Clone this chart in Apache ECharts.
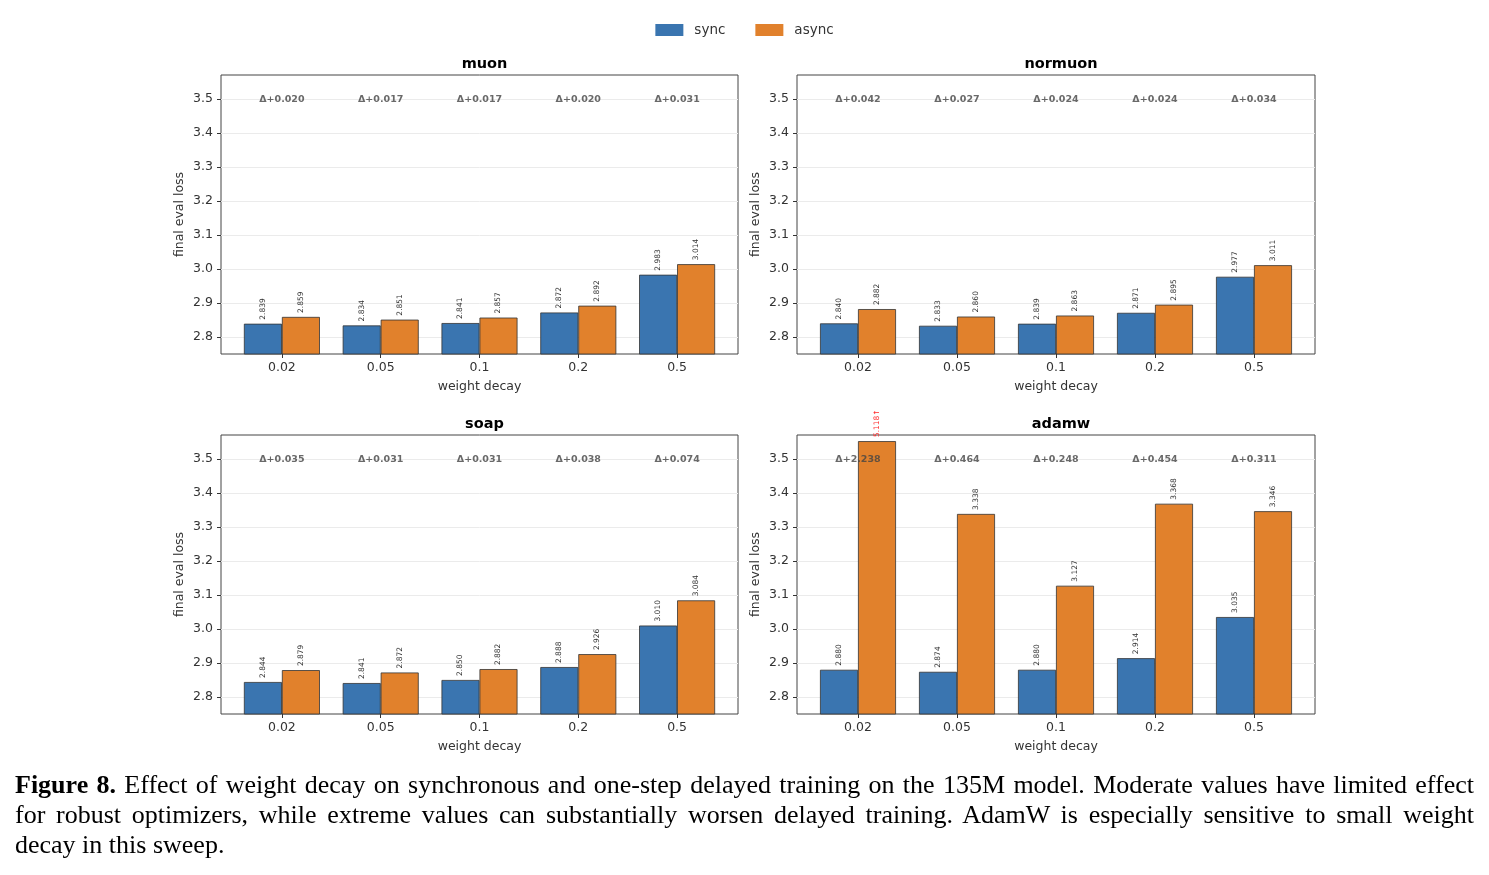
<!DOCTYPE html>
<html>
<head>
<meta charset="utf-8">
<script src="https://cdn.jsdelivr.net/npm/echarts@6/dist/echarts.min.js"></script>
<style>
  body { margin: 0; background: #fff; }
  #chart { position: absolute; left: 0; top: 0; width: 1489px; height: 875px; }
  #caption {
    position: absolute; left: 15px; top: 770px; width: 1459px;
    font-family: "Liberation Serif", "DejaVu Serif", serif; font-size: 26px;
    line-height: 30px; color: #000;
  }
  #caption .full { text-align: justify; text-align-last: justify; white-space: nowrap; }
</style>
</head>
<body>
<div id="chart"></div>
<div id="caption">
  <div class="full"><b>Figure 8.</b> Effect of weight decay on synchronous and one-step delayed training on the 135M model. Moderate values have limited effect</div>
  <div class="full">for robust optimizers, while extreme values can substantially worsen delayed training. AdamW is especially sensitive to small weight</div>
  <div>decay in this sweep.</div>
</div>
<script>
// weight decay values on the x axis
const categories = ['0.02', '0.05', '0.1', '0.2', '0.5'];
const optimizers = ['muon', 'normuon', 'soap', 'adamw'];

// final eval loss per optimizer
const muonSync = [2.839, 2.834, 2.841, 2.872, 2.983];
const muonAsync = [2.859, 2.851, 2.857, 2.892, 3.014];
const muonDelta = ['0.020', '0.017', '0.017', '0.020', '0.031'];

const normuonSync = [2.840, 2.833, 2.839, 2.871, 2.977];
const normuonAsync = [2.882, 2.860, 2.863, 2.895, 3.011];
const normuonDelta = ['0.042', '0.027', '0.024', '0.024', '0.034'];

const soapSync = [2.844, 2.841, 2.850, 2.888, 3.010];
const soapAsync = [2.879, 2.872, 2.882, 2.926, 3.084];
const soapDelta = ['0.035', '0.031', '0.031', '0.038', '0.074'];

const adamwSync = [2.880, 2.874, 2.880, 2.914, 3.035];
const adamwAsync = [5.118, 3.338, 3.127, 3.368, 3.346];
const adamwDelta = ['2.238', '0.464', '0.248', '0.454', '0.311'];

const yTicks = [2.8, 2.9, 3.0, 3.1, 3.2, 3.3, 3.4, 3.5];
const yMin = 2.75, yMax = 3.57, yCap = 3.552; // bars above the axis are clipped

const panels = [
  { sync: muonSync, async: muonAsync, delta: muonDelta },
  { sync: normuonSync, async: normuonAsync, delta: normuonDelta },
  { sync: soapSync, async: soapAsync, delta: soapDelta },
  { sync: adamwSync, async: adamwAsync, delta: adamwDelta }
];

const boxes = [
  { left: 221, top: 75, width: 517, height: 279 },
  { left: 797, top: 75, width: 518, height: 279 },
  { left: 221, top: 435, width: 517, height: 279 },
  { left: 797, top: 435, width: 518, height: 279 }
];

const SYNC = '#3a75b0', ASYNC = '#e1812c', INK = '#333';
const pad = 11.5; // matplotlib x margin outside the outer bars

const grid = [], xAxis = [], yAxis = [], series = [], title = [];

boxes.forEach((b, i) => {
  const d = panels[i];
  // frame grid: border, y ticks, gridlines
  grid.push({ left: b.left, top: b.top, width: b.width, height: b.height,
    show: true, borderColor: '#444', borderWidth: 1, backgroundColor: 'transparent' });
  // inner grid for bars
  grid.push({ left: b.left + pad, top: b.top, width: b.width - 2 * pad, height: b.height });

  xAxis.push({ gridIndex: 2 * i, type: 'value', min: 0, max: 1, show: false });
  yAxis.push({
    gridIndex: 2 * i, type: 'value', min: yMin, max: yMax,
    name: 'final eval loss', nameLocation: 'middle', nameGap: 35,
    nameTextStyle: { fontSize: 12.5, color: INK },
    axisLine: { show: false },
    axisTick: { show: true, length: 4, customValues: yTicks, lineStyle: { color: INK } },
    axisLabel: { fontSize: 12.5, color: INK, margin: 8, customValues: yTicks,
      formatter: v => v.toFixed(1) },
    splitLine: { show: true, lineStyle: { color: '#ebebeb', width: 1 } }
  });

  xAxis.push({
    gridIndex: 2 * i + 1, type: 'category', data: categories,
    name: 'weight decay', nameLocation: 'middle', nameGap: 26,
    nameTextStyle: { fontSize: 12.5, color: INK },
    axisLine: { show: false },
    axisTick: { show: true, alignWithLabel: true, length: 4, lineStyle: { color: INK } },
    axisLabel: { fontSize: 12.5, color: INK, margin: 7 }
  });
  yAxis.push({ gridIndex: 2 * i + 1, type: 'value', min: yMin, max: yMax, show: false });

  const valLabel = {
    show: true, position: 'top', rotate: 90, align: 'left', verticalAlign: 'middle',
    distance: 4, fontSize: 7.5, color: INK
  };

  series.push({
    name: 'sync', type: 'bar', xAxisIndex: 2 * i + 1, yAxisIndex: 2 * i + 1,
    data: d.sync, barWidth: 38, barGap: '0%',
    itemStyle: { color: SYNC, borderColor: INK, borderWidth: 0.8 },
    label: Object.assign({}, valLabel, { formatter: p => p.value.toFixed(3) })
  });
  series.push({
    name: 'async', type: 'bar', xAxisIndex: 2 * i + 1, yAxisIndex: 2 * i + 1,
    data: d.async.map(v => v > yCap ? {
      value: yCap,
      label: { color: '#ff2a2a', formatter: v.toFixed(3) + '↑' }
    } : v),
    barWidth: 38, barGap: '0%',
    itemStyle: { color: ASYNC, borderColor: INK, borderWidth: 0.8 },
    label: Object.assign({}, valLabel, { formatter: p => p.value.toFixed(3) })
  });
  // delta annotations at y = 3.5
  series.push({
    type: 'scatter', xAxisIndex: 2 * i + 1, yAxisIndex: 2 * i + 1,
    symbolSize: 1, itemStyle: { color: 'rgba(0,0,0,0)' }, silent: true, z: 5,
    data: categories.map(c => [c, 3.5]),
    label: { show: true, position: 'inside', offset: [0, 1], fontSize: 9.5, fontWeight: 'bold',
      color: '#444', formatter: p => 'Δ+' + d.delta[p.dataIndex] }
  });

  title.push({
    text: optimizers[i], left: b.left + b.width / 2, top: b.top - 23, textAlign: 'center',
    textStyle: { fontSize: 14.5, fontWeight: 'bold', color: '#000' }
  });
});

const chart = echarts.init(document.getElementById('chart'), null, { renderer: 'canvas' });
chart.setOption({
  animation: false,
  backgroundColor: '#fff',
  textStyle: { fontFamily: 'DejaVu Sans' },
  title: title,
  legend: {
    data: ['sync', 'async'], top: 18, left: 'center',
    icon: 'rect', itemWidth: 28, itemHeight: 12, itemGap: 30,
    itemStyle: { borderWidth: 0 },
    textStyle: { fontSize: 13.5, color: INK, padding: [0, 0, 0, 6] }
  },
  grid: grid,
  xAxis: xAxis,
  yAxis: yAxis,
  series: series
});
</script>
</body>
</html>
